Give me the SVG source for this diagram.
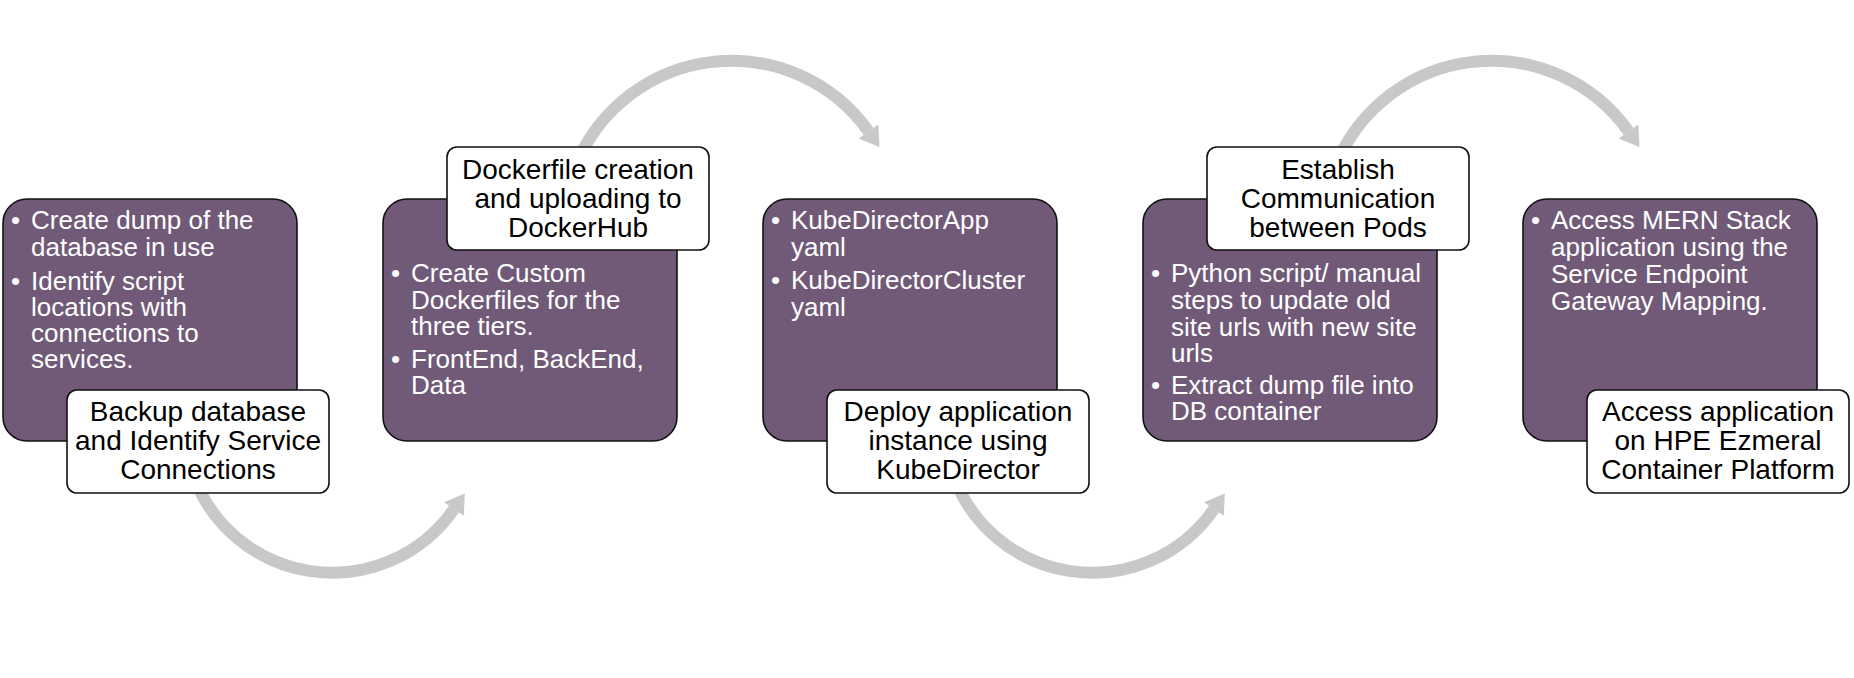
<svg xmlns="http://www.w3.org/2000/svg" width="1854" height="678" viewBox="0 0 1854 678">
<style>
.box{fill:#705A78;stroke:#111;stroke-width:1.6}
.lbl{fill:#fff;stroke:#111;stroke-width:1.6}
.bt{font-family:"Liberation Sans",Arial,sans-serif;font-size:26px;fill:#fff}
.lt{font-family:"Liberation Sans",Arial,sans-serif;font-size:28px;fill:#000;text-anchor:middle}
.arc{fill:none;stroke:#C7C9C9;stroke-width:12}
.head{fill:#C7C9C9}
</style>
<rect width="1854" height="678" fill="#fff"/>
<g id="connectors">
<path class="arc" d="M 191.4 470 A 148 148 0 0 0 454 509"/>
<polygon class="head" points="444.1,502.2 464.8,493.4 463.9,515.8"/>
<path class="arc" d="M 576.1 165 A 168 168 0 0 1 868.5 131.5"/>
<polygon class="head" points="858.7,138.4 879.5,147 878.3,124.6"/>
<path class="arc" d="M 951.4 470 A 148 148 0 0 0 1214 509"/>
<polygon class="head" points="1204.1,502.2 1224.8,493.4 1223.9,515.8"/>
<path class="arc" d="M 1336.1 165 A 168 168 0 0 1 1628.5 131.5"/>
<polygon class="head" points="1618.7,138.4 1639.5,147 1638.3,124.6"/>
</g>
<g id="step1">
<rect class="box" x="3" y="199" width="294" height="242" rx="24"/>
<text class="bt"><tspan x="11" y="229">•</tspan><tspan x="31" y="229">Create dump of the</tspan><tspan x="31" y="256">database in use</tspan><tspan x="11" y="290">•</tspan><tspan x="31" y="290">Identify script</tspan><tspan x="31" y="316">locations with</tspan><tspan x="31" y="342">connections to</tspan><tspan x="31" y="368">services.</tspan></text>
<rect class="lbl" x="67" y="390" width="262" height="103" rx="10"/>
<text class="lt"><tspan x="198" y="421">Backup database</tspan><tspan x="198" y="450">and Identify Service</tspan><tspan x="198" y="479">Connections</tspan></text>
</g>
<g id="step2">
<rect class="box" x="383" y="199" width="294" height="242" rx="24"/>
<text class="bt"><tspan x="391" y="282">•</tspan><tspan x="411" y="282">Create Custom</tspan><tspan x="411" y="309">Dockerfiles for the</tspan><tspan x="411" y="335">three tiers.</tspan><tspan x="391" y="368">•</tspan><tspan x="411" y="368">FrontEnd, BackEnd,</tspan><tspan x="411" y="394">Data</tspan></text>
<rect class="lbl" x="447" y="147" width="262" height="103" rx="10"/>
<text class="lt"><tspan x="578" y="179">Dockerfile creation</tspan><tspan x="578" y="208">and uploading to</tspan><tspan x="578" y="237">DockerHub</tspan></text>
</g>
<g id="step3">
<rect class="box" x="763" y="199" width="294" height="242" rx="24"/>
<text class="bt"><tspan x="771" y="229">•</tspan><tspan x="791" y="229">KubeDirectorApp</tspan><tspan x="791" y="256">yaml</tspan><tspan x="771" y="289">•</tspan><tspan x="791" y="289">KubeDirectorCluster</tspan><tspan x="791" y="316">yaml</tspan></text>
<rect class="lbl" x="827" y="390" width="262" height="103" rx="10"/>
<text class="lt"><tspan x="958" y="421">Deploy application</tspan><tspan x="958" y="450">instance using</tspan><tspan x="958" y="479">KubeDirector</tspan></text>
</g>
<g id="step4">
<rect class="box" x="1143" y="199" width="294" height="242" rx="24"/>
<text class="bt"><tspan x="1151" y="282">•</tspan><tspan x="1171" y="282">Python script/ manual</tspan><tspan x="1171" y="309">steps to update old</tspan><tspan x="1171" y="336">site urls with new site</tspan><tspan x="1171" y="362">urls</tspan><tspan x="1151" y="394">•</tspan><tspan x="1171" y="394">Extract dump file into</tspan><tspan x="1171" y="420">DB container</tspan></text>
<rect class="lbl" x="1207" y="147" width="262" height="103" rx="10"/>
<text class="lt"><tspan x="1338" y="179">Establish</tspan><tspan x="1338" y="208">Communication</tspan><tspan x="1338" y="237">between Pods</tspan></text>
</g>
<g id="step5">
<rect class="box" x="1523" y="199" width="294" height="242" rx="24"/>
<text class="bt"><tspan x="1531" y="229">•</tspan><tspan x="1551" y="229">Access MERN Stack</tspan><tspan x="1551" y="256">application using the</tspan><tspan x="1551" y="283">Service Endpoint</tspan><tspan x="1551" y="310">Gateway Mapping.</tspan></text>
<rect class="lbl" x="1587" y="390" width="262" height="103" rx="10"/>
<text class="lt"><tspan x="1718" y="421">Access application</tspan><tspan x="1718" y="450">on HPE Ezmeral</tspan><tspan x="1718" y="479">Container Platform</tspan></text>
</g>
</svg>
